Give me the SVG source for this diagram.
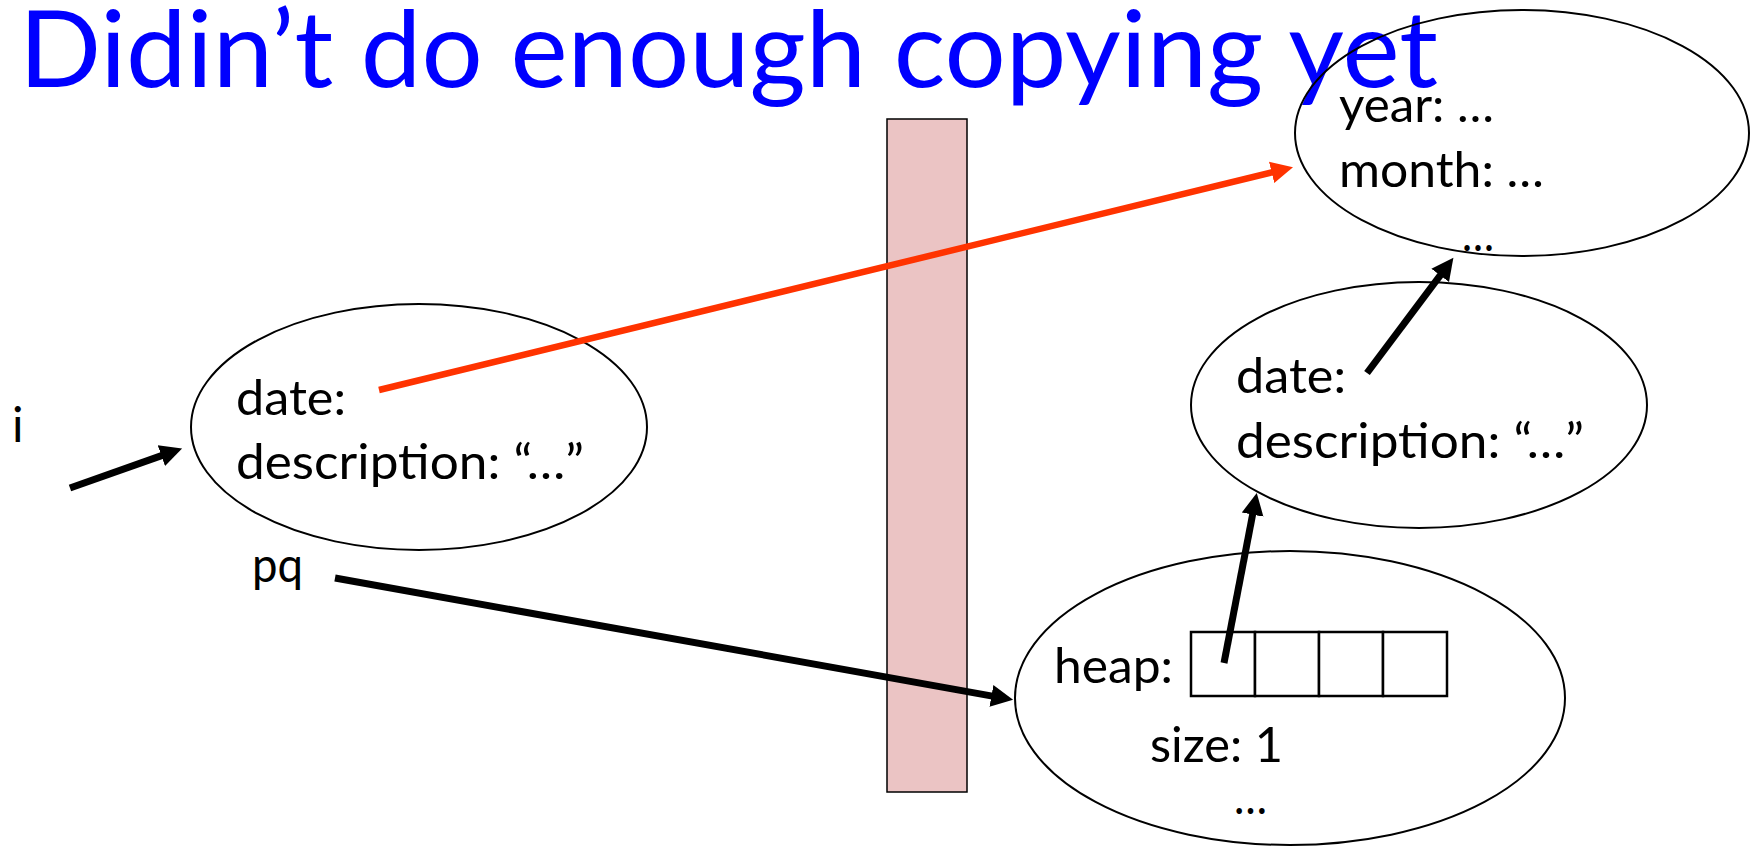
<svg xmlns="http://www.w3.org/2000/svg" width="1750" height="847" viewBox="0 0 1750 847">
<style>
.t{font-family:Lato,"Open Sans","Liberation Sans",sans-serif;font-size:48px;fill:#000}
.title{font-family:Lato,"Open Sans","Liberation Sans",sans-serif;font-size:107px;fill:#0000FF}
.node{fill:none;stroke:#000;stroke-width:2}
.cell{fill:#fff;stroke:#000;stroke-width:2.5}
.blk{stroke:#000;stroke-width:7;fill:none;marker-end:url(#ab)}
.red{stroke:#FF3300;stroke-width:6.5;fill:none;marker-end:url(#ar)}
</style>
<defs>
<marker id="ab" markerUnits="userSpaceOnUse" markerWidth="26" markerHeight="24" viewBox="0 -12 26 24" refX="1" refY="0" orient="auto"><path d="M0,-11 L22,0 L0,11 z" fill="#000"/></marker>
<marker id="ar" markerUnits="userSpaceOnUse" markerWidth="26" markerHeight="24" viewBox="0 -12 26 24" refX="1" refY="0" orient="auto"><path d="M0,-11 L22,0 L0,11 z" fill="#FF3300"/></marker>
</defs>
<rect width="1750" height="847" fill="#fff"/>
<text class="title" x="19" y="87" textLength="1419" lengthAdjust="spacingAndGlyphs">Didin’t do enough copying yet</text>
<g id="bar"><rect x="887" y="119" width="80" height="673" fill="#EBC4C4" stroke="#000" stroke-width="1.5"/></g>
<g id="label-i"><text class="t" x="12" y="442">i</text></g>
<g id="label-pq"><text class="t" x="252" y="582" textLength="51" lengthAdjust="spacingAndGlyphs">pq</text></g>
<g id="item-left">
<ellipse class="node" cx="419" cy="427" rx="228" ry="123"/>
<text class="t" x="236" y="415" textLength="110" lengthAdjust="spacingAndGlyphs">date:</text>
<text class="t" x="236" y="479" textLength="348" lengthAdjust="spacingAndGlyphs">description: “…”</text>
</g>
<g id="date-obj">
<ellipse class="node" cx="1522" cy="133" rx="227" ry="123"/>
<text class="t" x="1339" y="122" textLength="155" lengthAdjust="spacingAndGlyphs">year: …</text>
<text class="t" x="1339" y="187" textLength="205" lengthAdjust="spacingAndGlyphs">month: …</text>
<text class="t" x="1462" y="251" textLength="32" lengthAdjust="spacingAndGlyphs">…</text>
</g>
<g id="item-right">
<ellipse class="node" cx="1419" cy="405" rx="228" ry="123"/>
<text class="t" x="1236" y="393" textLength="110" lengthAdjust="spacingAndGlyphs">date:</text>
<text class="t" x="1236" y="458" textLength="348" lengthAdjust="spacingAndGlyphs">description: “…”</text>
</g>
<g id="pq-obj">
<ellipse class="node" cx="1290" cy="698" rx="275" ry="147"/>
<text class="t" x="1054" y="683" textLength="119" lengthAdjust="spacingAndGlyphs">heap:</text>
<rect class="cell" x="1191" y="632" width="64" height="64"/>
<rect class="cell" x="1255" y="632" width="64" height="64"/>
<rect class="cell" x="1319" y="632" width="64" height="64"/>
<rect class="cell" x="1383" y="632" width="64" height="64"/>
<text class="t" x="1150" y="762" textLength="133" lengthAdjust="spacingAndGlyphs">size: 1</text>
<text class="t" x="1234" y="814" textLength="33" lengthAdjust="spacingAndGlyphs">…</text>
</g>
<g id="connectors">
<line class="blk" x1="70" y1="488" x2="162.3" y2="455.4"/>
<line class="blk" x1="335" y1="578" x2="992.4" y2="696.1"/>
<line class="red" x1="379" y1="390" x2="1272.6" y2="172.2"/>
<line class="blk" x1="1224" y1="663" x2="1252.8" y2="513.6"/>
<line class="blk" x1="1367" y1="373" x2="1440.8" y2="274.6"/>
</g>
</svg>
